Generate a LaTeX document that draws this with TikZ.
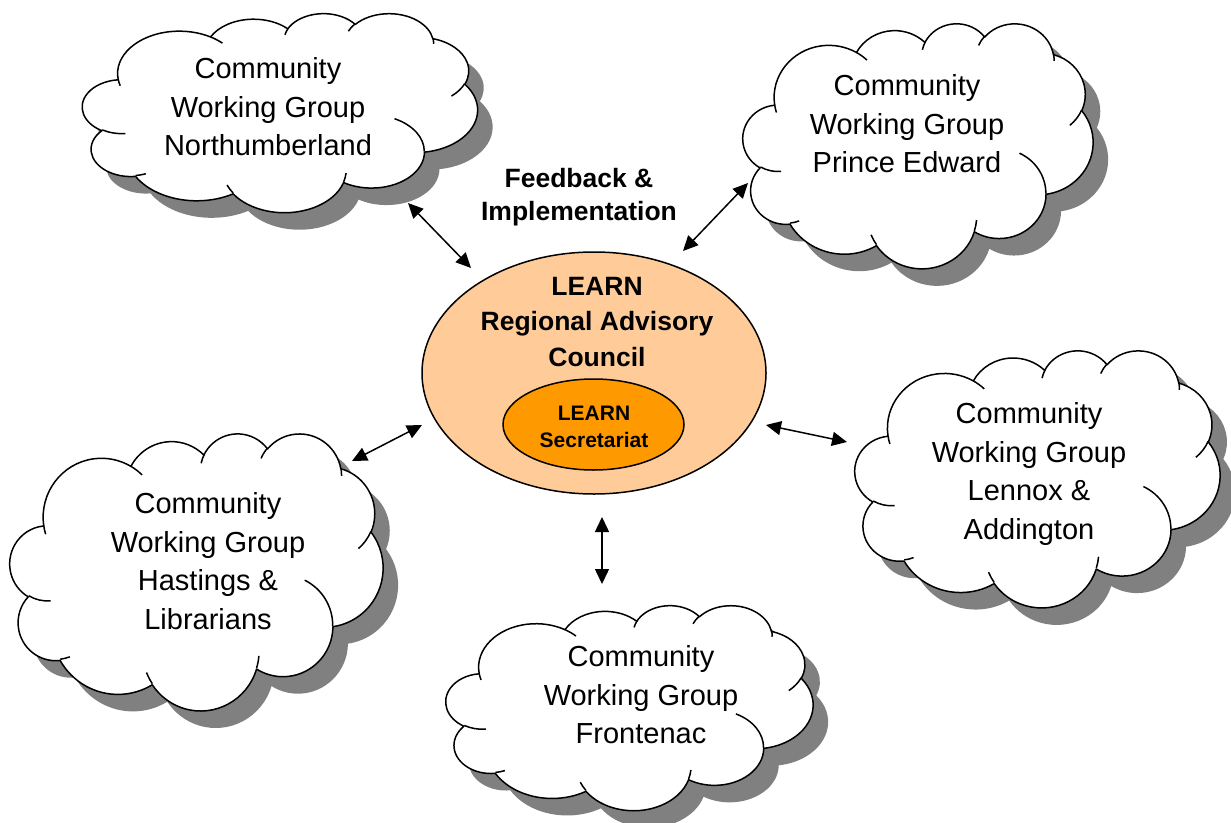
\documentclass[tikz,border=0pt]{standalone}
\usepackage{fontspec}
\setmainfont{Liberation Sans}
\usetikzlibrary{arrows.meta,shapes.geometric}
\definecolor{lightorange}{HTML}{FFCC99}
\definecolor{darkorange}{HTML}{FF9900}
\definecolor{shadowgray}{HTML}{808080}
\makeatletter
\pgfmathdeclarefunction{visang}{3}{%
  \begingroup
    \pgfmathparse{atan2((#2)*sin(#1),(#3)*cos(#1))-(#1)}%
    \edef\va@d{\pgfmathresult}%
    \pgfmathparse{(#1)+(\va@d)-360*round((\va@d)/360)}%
    \pgfmath@smuggleone\pgfmathresult
  \endgroup}
\makeatother
\tikzset{
  cloudarc/.style n args={4}{insert path={arc[start angle={-visang(#3,#1,#2)}, end angle={-visang((#3)+(#4),#1,#2)}, x radius={#1/432*\cW}, y radius={#2/432*\cH}]}},
  cloudline/.style={draw=black, line width=1.5pt, line join=round},
  cloudshadow/.style={fill=shadowgray},
  cloudtext/.style={align=center, font=\fontsize{29}{38.5}\selectfont, inner sep=0pt},
  boldtext/.style={align=center, font=\bfseries\fontsize{26.5}{35.5}\selectfont, inner sep=0pt},
  linkarrow/.style={{Triangle[length=15pt,width=14pt]}-{Triangle[length=15pt,width=14pt]}, line width=1.5pt, black},
}
\newcommand{\cloudoutline}{%
  [cloudarc={67.53}{91.90}{-190.4875}{123.7805}]
  [cloudarc={53.33}{72.67}{-144.1024}{89.9452}]
  [cloudarc={43.65}{59.45}{-145.8079}{99.7230}]
  [cloudarc={48.57}{65.95}{-130.9861}{117.2417}]
  [cloudarc={53.33}{72.73}{-78.7089}{109.0269}]
  [cloudarc={67.75}{92.20}{-46.2673}{130.2690}]
  [cloudarc={57.85}{78.67}{0.6250}{114.0333}]
  [cloudarc={67.52}{92.15}{22.4516}{115.1726}]
  [cloudarc={77.20}{105.43}{66.2426}{75.7110}]
  [cloudarc={43.60}{59.18}{-274.9421}{146.7356}]
  [cloudarc={43.45}{59.45}{-246.8285}{152.5189}]
  -- cycle}
\newcommand{\cpt}[2]{({\cxo+(#1)/432*\cW},{-(\cyo+(#2)/432*\cH)})}
\newcommand{\drawcloud}[4]{%
  \def\cW{#3}\def\cH{#4}%
  \pgfmathsetmacro\cxo{#1-#3/2}%
  \pgfmathsetmacro\cyo{#2-#4/2}%
  \begin{scope}[shift={(15,-17)}]
    \fill[cloudshadow] \cpt{39.00}{143.70} \cloudoutline;
  \end{scope}
  \filldraw[cloudline, fill=white] \cpt{39.00}{143.70} \cloudoutline;
  \draw[cloudline]
    \cpt{46.93}{261.77} [cloudarc={43.45}{59.45}{86.7420}{26.4295}]
    \cpt{69.28}{348.99} [cloudarc={43.60}{59.18}{73.6105}{11.4475}]
    \cpt{164.78}{390.90} [cloudarc={67.52}{92.15}{137.6242}{14.0811}]
    \cpt{288.27}{347.51} [cloudarc={67.52}{92.15}{6.4533}{15.9984}]
    \cpt{341.29}{229.54} [cloudarc={57.85}{78.67}{-70.2924}{70.9174}]
    \cpt{417.98}{153.54} [cloudarc={53.33}{72.73}{30.3180}{27.7515}]
    \cpt{383.24}{54.26} [cloudarc={48.57}{65.95}{-13.7443}{14.8589}]
    \cpt{290.78}{39.52} [cloudarc={48.57}{65.95}{-149.1815}{18.1954}]
    \cpt{221.41}{47.20} [cloudarc={43.65}{59.45}{-163.4943}{17.6864}]
    \cpt{140.00}{51.92} [cloudarc={67.53}{91.90}{-66.7070}{12.3194}]
    \cpt{41.27}{157.89} [cloudarc={67.53}{91.90}{157.6544}{11.8582}];
}
\begin{document}
\begin{tikzpicture}[x=1pt,y=1pt]
\useasboundingbox (0,0) rectangle (1231,-822);

% clouds
\drawcloud{280}{112.5}{395}{199}
\drawcloud{918}{145.5}{350}{245}
\drawcloud{1037.5}{478.5}{365}{257}
\drawcloud{196.5}{571.5}{373}{277}
\drawcloud{629.5}{707.5}{367}{205}

\node[cloudtext] (north) at (268,-107) {Community\\Working Group\\Northumberland};
\node[cloudtext] (prince) at (907,-124) {Community\\Working Group\\Prince Edward};
\node[cloudtext] (lennox) at (1029,-474) {Community\\Working Group\\Lennox \&\\Addington};
\node[cloudtext] (hastings) at (208,-561) {Community\\Working Group\\Hastings \&\\Librarians};
\node[cloudtext] (frontenac) at (641,-695) {Community\\Working Group\\Frontenac};

% central council
\node[ellipse, draw=black, line width=1.5pt, fill=lightorange, inner sep=0pt,
      minimum width=344, minimum height=242] (council) at (594,-373) {};
\node[ellipse, draw=black, line width=1.5pt, fill=darkorange, inner sep=0pt,
      minimum width=181, minimum height=91] (secretariat) at (593.5,-424.5) {};
\node[boldtext] (counciltext) at (597,-322) {LEARN\\Regional Advisory\\Council};
\node[align=center, font=\bfseries\fontsize{21}{27}\selectfont, inner sep=0pt] (secrtext) at (594,-427) {LEARN\\Secretariat};
\node[boldtext, font=\bfseries\fontsize{26.5}{33}\selectfont] (feedback) at (579,-197) {Feedback \&\\Implementation};

% arrow ends
\coordinate (nwA) at (408,-203);
\coordinate (nwB) at (471,-268);
\coordinate (neA) at (683,-251);
\coordinate (neB) at (748,-183);
\coordinate (wA) at (352,-461);
\coordinate (wB) at (422,-425);
\coordinate (eA) at (766,-425);
\coordinate (eB) at (847,-442);
\coordinate (sA) at (602,-517);
\coordinate (sB) at (602,-584);

\draw[linkarrow] (nwA) -- (nwB);
\draw[linkarrow] (neA) -- (neB);
\draw[linkarrow] (wA) -- (wB);
\draw[linkarrow] (eA) -- (eB);
\draw[linkarrow] (sA) -- (sB);
\end{tikzpicture}
\end{document}
